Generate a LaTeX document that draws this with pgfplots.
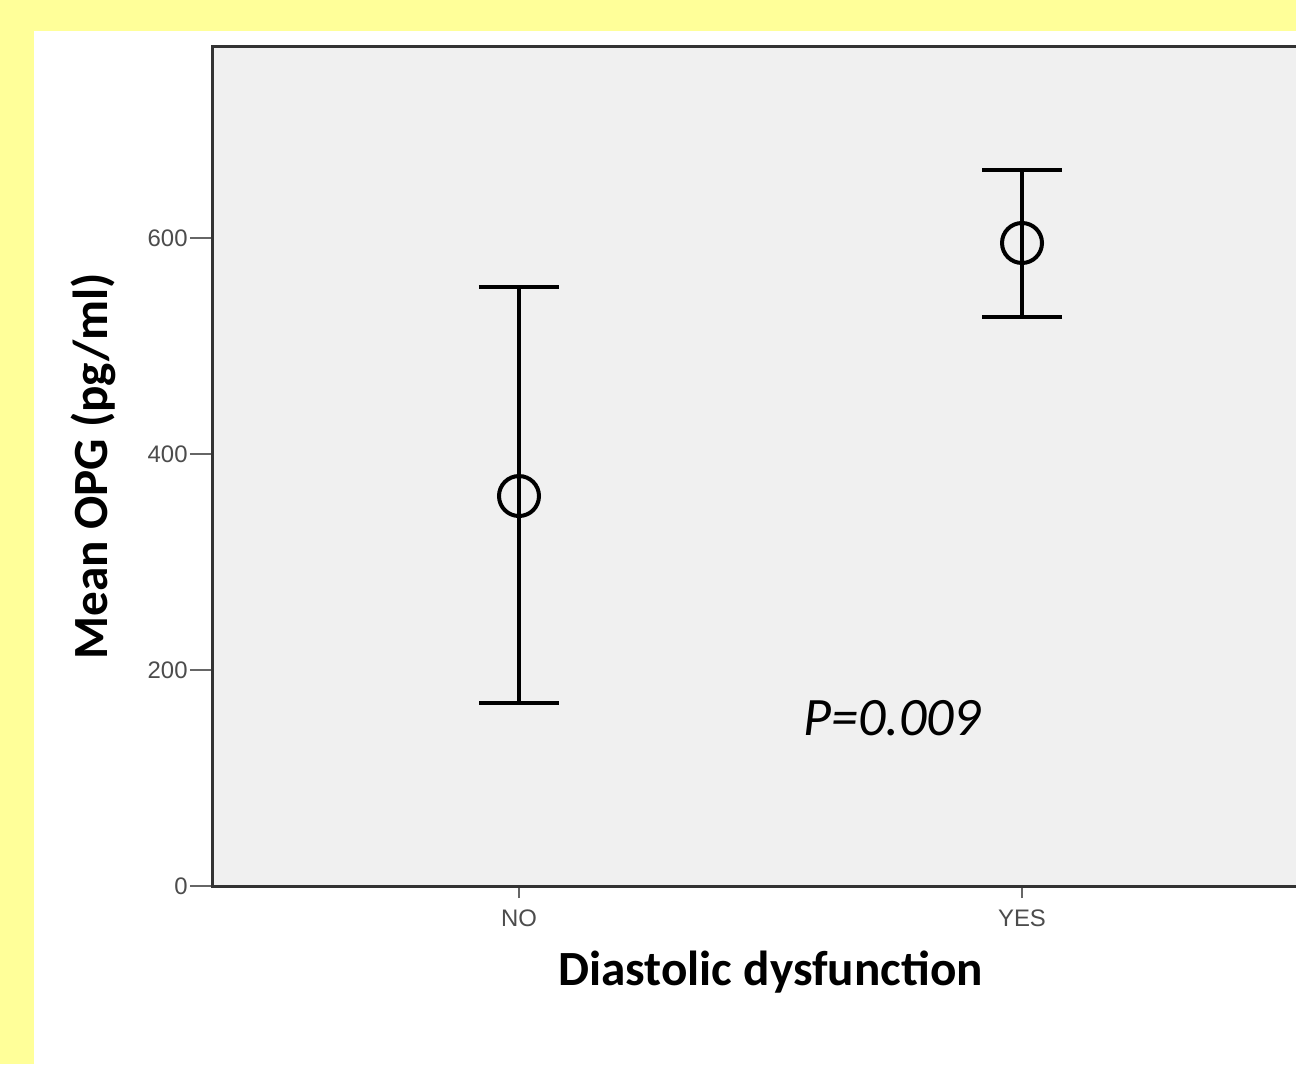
\documentclass[border=0pt]{standalone}
\usepackage{pgfplots}
\pgfplotsset{compat=1.18}
\usepackage{fontspec}
\setmainfont{Carlito}
\newfontfamily\tickfont{Liberation Sans}
\definecolor{bgyellow}{HTML}{FFFF99}
\definecolor{panel}{HTML}{F0F0F0}
\definecolor{axline}{HTML}{333333}
\begin{document}
\begin{tikzpicture}
\useasboundingbox (0,0) rectangle (129.6mm,106.4mm);
\clip (0,0) rectangle (129.6mm,106.4mm);
\fill[bgyellow] (0,0) rectangle (129.6mm,106.4mm);
\fill[white] (3.4mm,0) rectangle (129.6mm,103.3mm);
\begin{axis}[
  at={(21.2mm,17.8mm)}, anchor=south west,
  scale only axis, width=111.7mm, height=84mm,
  xmin=0.3897, xmax=2.6103, ymin=0, ymax=777.8,
  axis background/.style={fill=panel},
  axis line style={axline, line width=0.3mm},
  xtick={1,2}, xticklabels={NO,YES},
  ytick={0,200,400,600},
  tick style={black!60, line width=0.15mm},
  tick align=outside, tick pos=left,
  major tick length=2.2mm,
  xtick style={/pgfplots/major tick length=1.2mm},
  /pgf/number format/assume math mode=true,
  ticklabel style={font=\tickfont\fontsize{6.8}{7.5}\selectfont, text=black!70},
  yticklabel style={xshift=1mm},
  xticklabel style={yshift=1.1mm},
  xlabel={\bfseries Diastolic dysfunction},
  ylabel={\bfseries Mean OPG (pg/ml)},
  label style={font=\fontsize{14}{16}\selectfont},
  xlabel style={at={(axis description cs:0.5,-0.118)}, anchor=base},
  ylabel style={at={(axis description cs:-0.1066,0.5)}, anchor=center},
]
\addplot[black, line width=0.4mm, only marks, mark=o, mark size=2.0mm,
  error bars/.cd, y dir=both, y explicit,
  error mark=|,
  error bar style={line width=0.4mm},
  error mark options={line width=0.4mm, mark size=4mm}]
  coordinates {
  (1,361.1) += (0,193.2) -= (0,191.7)
  (2,595.4) += (0,67.6) -= (0,68.5)
  };
\node[font=\itshape\fontsize{15.4}{18}\selectfont] at (axis cs:1.742,155.6) {P=0.009};
\end{axis}
\end{tikzpicture}
\end{document}
